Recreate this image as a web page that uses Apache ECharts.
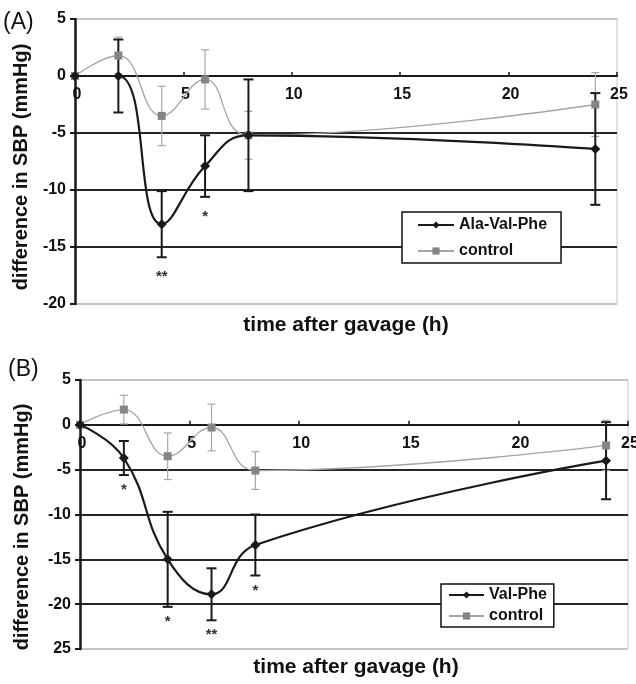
<!DOCTYPE html>
<html>
<head>
<meta charset="utf-8">
<script src="https://cdn.jsdelivr.net/npm/echarts@6/dist/echarts.min.js"></script>
<style>
html, body { margin: 0; padding: 0; background: #fff; }
#chart { width: 636px; height: 684px; }
</style>
</head>
<body>
<div id="chart"></div>
<script>
// 时间点 (h)
const hours = [0, 2, 4, 6, 8, 24];

// (A) Ala-Val-Phe vs control
const alaValPhe = [0, 0, -13.0, -7.9, -5.2, -6.4];
const alaValPheErr = [0, 3.2, 2.9, 2.7, 4.9, 4.9];
const controlA = [0, 1.8, -3.5, -0.3, -5.2, -2.5];
const controlAErr = [0, 1.6, 2.6, 2.6, 2.1, 2.8];
const starsA = ['', '', '**', '*', '', ''];

// (B) Val-Phe vs control
const valPhe = [0, -3.7, -15.0, -18.9, -13.4, -4.0];
const valPheErr = [0, 1.9, 5.3, 2.9, 3.4, 4.3];
const controlB = [0, 1.7, -3.5, -0.3, -5.1, -2.3];
const controlBErr = [0, 1.6, 2.6, 2.6, 2.1, 2.8];
const starsB = ['', '*', '*', '**', '*', ''];

// 刻度标签
const xTicks = [0, 5, 10, 15, 20, 25];
const yTicksA = [5, 0, -5, -10, -15, -20];
const yLabelsA = ['5', '0', '-5', '-10', '-15', '-20'];
const yTicksB = [5, 0, -5, -10, -15, -20, -25];
const yLabelsB = ['5', '0', '-5', '-10', '-15', '-20', '25'];

const FONT = 'Liberation Sans, Arial, sans-serif';
const DARK = '#1a1a1a';
const GRAY_LINE = '#a3a3a3';
const GRAY_MARK = '#858585';

function pairs(vals) {
    return hours.map((h, i) => [h, vals[i]]);
}

// 误差线
function errBars(vals, errs, idx, color, width, cap) {
    const data = [];
    hours.forEach((h, i) => {
        if (errs[i] > 0) data.push([h, vals[i] - errs[i], vals[i] + errs[i]]);
    });
    return {
        type: 'custom',
        xAxisIndex: idx,
        yAxisIndex: idx,
        silent: true,
        z: 3,
        data: data,
        encode: { x: 0, y: [1, 2] },
        renderItem: function(params, api) {
            const x = api.value(0);
            const lo = api.coord([x, api.value(1)]);
            const hi = api.coord([x, api.value(2)]);
            const st = { stroke: color, lineWidth: width };
            return {
                type: 'group',
                children: [
                    { type: 'line', shape: { x1: lo[0], y1: lo[1], x2: hi[0], y2: hi[1] }, style: st },
                    { type: 'line', shape: { x1: lo[0] - cap, y1: lo[1], x2: lo[0] + cap, y2: lo[1] }, style: st },
                    { type: 'line', shape: { x1: hi[0] - cap, y1: hi[1], x2: hi[0] + cap, y2: hi[1] }, style: st }
                ]
            };
        }
    };
}

// 显著性星号
function starMarks(vals, errs, stars, idx, gap) {
    const data = [];
    hours.forEach((h, i) => {
        if (stars[i]) data.push([h, vals[i] - errs[i], stars[i]]);
    });
    return {
        type: 'custom',
        xAxisIndex: idx,
        yAxisIndex: idx,
        silent: true,
        z: 4,
        data: data,
        encode: { x: 0, y: 1 },
        renderItem: function(params, api) {
            const p = api.coord([api.value(0), api.value(1)]);
            return {
                type: 'text',
                x: p[0],
                y: p[1] + gap,
                style: {
                    text: data[params.dataIndex][2],
                    font: 'bold 15px ' + FONT,
                    fill: '#333',
                    align: 'center',
                    verticalAlign: 'middle'
                }
            };
        }
    };
}

// x 轴刻度标签放在 0 线下方
function xLabels(idx) {
    return {
        type: 'custom',
        xAxisIndex: idx,
        yAxisIndex: idx,
        silent: true,
        z: 2,
        data: xTicks.map(v => [v, 0]),
        encode: { x: 0, y: 1 },
        renderItem: function(params, api) {
            const p = api.coord([api.value(0), 0]);
            return {
                type: 'text',
                x: p[0] + 2,
                y: p[1] + 11,
                style: {
                    text: String(xTicks[params.dataIndex]),
                    font: 'bold 16px ' + FONT,
                    fill: '#111',
                    align: 'center',
                    verticalAlign: 'top'
                }
            };
        }
    };
}

function yAxisCfg(idx, min, ticks, labels) {
    const n = ticks.length;
    const colors = [];
    for (let i = 0; i < n; i++) colors.push(i === 0 || i === n - 1 ? '#c4c4c4' : '#262626');
    return {
        type: 'value',
        gridIndex: idx,
        min: min,
        max: 5,
        interval: 5,
        axisLine: { show: true, lineStyle: { color: DARK, width: 2.5 } },
        axisTick: { show: true, length: 5, lineStyle: { color: DARK, width: 2 } },
        axisLabel: {
            margin: 9,
            fontFamily: FONT,
            fontWeight: 'bold',
            fontSize: 16,
            color: '#111',
            formatter: v => labels[ticks.indexOf(v)]
        },
        splitLine: { show: true, lineStyle: { color: colors, width: 2 } }
    };
}

function xAxisCfg(idx) {
    return {
        type: 'value',
        gridIndex: idx,
        min: 0,
        max: 25,
        interval: 5,
        axisLine: { show: true, onZero: true, lineStyle: { color: DARK, width: 2 } },
        axisTick: { show: true, inside: true, length: 4, lineStyle: { color: DARK, width: 1.5 } },
        axisLabel: { show: false },
        splitLine: { show: false }
    };
}

function lineSeries(name, vals, idx, dark) {
    return {
        name: name,
        type: 'line',
        xAxisIndex: idx,
        yAxisIndex: idx,
        data: pairs(vals),
        smooth: 0.45,
        z: dark ? 6 : 5,
        symbol: dark ? 'diamond' : 'rect',
        symbolSize: dark ? 10 : 8,
        lineStyle: { color: dark ? DARK : GRAY_LINE, width: dark ? 2.2 : 1.3 },
        itemStyle: { color: dark ? DARK : GRAY_MARK },
        emphasis: { disabled: true }
    };
}

const myChart = echarts.init(document.getElementById('chart'));
const option = {
    animation: false,
    backgroundColor: '#fff',
    grid: [
        { left: 75, top: 19, width: 542, height: 285, show: true, borderColor: '#c4c4c4', borderWidth: 1 },
        { left: 80, top: 380, width: 548, height: 269, show: true, borderColor: '#c4c4c4', borderWidth: 1 }
    ],
    xAxis: [xAxisCfg(0), xAxisCfg(1)],
    yAxis: [yAxisCfg(0, -20, yTicksA, yLabelsA), yAxisCfg(1, -25, yTicksB, yLabelsB)],
    legend: [
        {
            data: ['Ala-Val-Phe', 'control'],
            left: 402, top: 212,
            orient: 'vertical',
            backgroundColor: '#fff',
            borderColor: '#111', borderWidth: 1.5,
            padding: [5, 14, 4, 15],
            itemGap: 10, itemWidth: 36, itemHeight: 9,
            selectedMode: false,
            textStyle: { fontFamily: FONT, fontWeight: 'bold', fontSize: 16, color: '#111' }
        },
        {
            data: ['Val-Phe', 'control'],
            left: 441, top: 584,
            orient: 'vertical',
            backgroundColor: '#fff',
            borderColor: '#111', borderWidth: 1.5,
            padding: [3, 7, 3, 7],
            itemGap: 5, itemWidth: 35, itemHeight: 9,
            selectedMode: false,
            textStyle: { fontFamily: FONT, fontWeight: 'bold', fontSize: 16, color: '#111' }
        }
    ],
    graphic: [
        { type: 'text', x: 3, y: 11, style: { text: '(A)', font: '23px ' + FONT, fill: '#111' } },
        { type: 'text', x: 8, y: 358, style: { text: '(B)', font: '23px ' + FONT, fill: '#111' } },
        { type: 'text', x: 21, y: 167, rotation: Math.PI / 2,
          style: { text: 'difference in SBP (mmHg)', font: 'bold 20px ' + FONT, fill: '#111', align: 'center', verticalAlign: 'middle' } },
        { type: 'text', x: 22, y: 527, rotation: Math.PI / 2,
          style: { text: 'difference in SBP (mmHg)', font: 'bold 20px ' + FONT, fill: '#111', align: 'center', verticalAlign: 'middle' } },
        { type: 'text', x: 346, y: 325,
          style: { text: 'time after gavage (h)', font: 'bold 21px ' + FONT, fill: '#111', align: 'center', verticalAlign: 'middle' } },
        { type: 'text', x: 356, y: 667,
          style: { text: 'time after gavage (h)', font: 'bold 21px ' + FONT, fill: '#111', align: 'center', verticalAlign: 'middle' } }
    ],
    series: [
        xLabels(0),
        errBars(controlA, controlAErr, 0, '#a8a8a8', 1.2, 4),
        errBars(alaValPhe, alaValPheErr, 0, DARK, 2, 5),
        lineSeries('control', controlA, 0, false),
        lineSeries('Ala-Val-Phe', alaValPhe, 0, true),
        starMarks(alaValPhe, alaValPheErr, starsA, 0, 20),
        xLabels(1),
        errBars(controlB, controlBErr, 1, '#a8a8a8', 1.2, 4),
        errBars(valPhe, valPheErr, 1, DARK, 2, 5),
        lineSeries('control', controlB, 1, false),
        lineSeries('Val-Phe', valPhe, 1, true),
        starMarks(valPhe, valPheErr, starsB, 1, 15)
    ]
};
myChart.setOption(option);
</script>
</body>
</html>
